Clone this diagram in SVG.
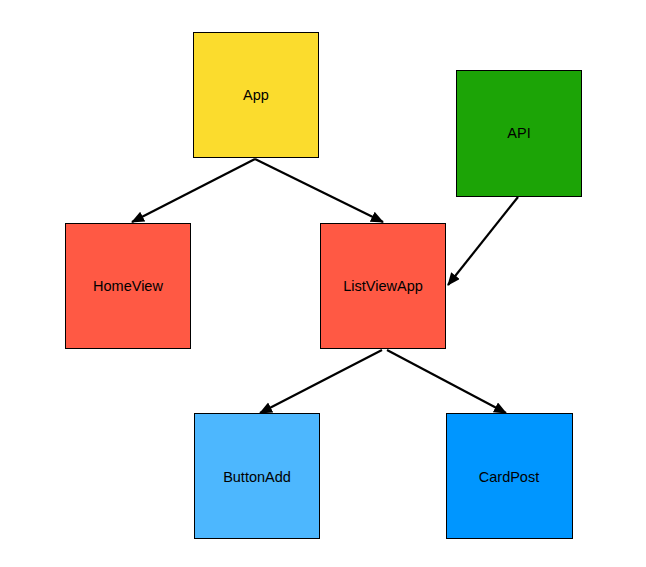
<svg xmlns="http://www.w3.org/2000/svg" width="646" height="567" viewBox="0 0 646 567">
<style>
.box{stroke:#000;stroke-width:1}
.lbl{font-family:"Liberation Sans",Arial,Helvetica,sans-serif;font-size:14.5px;fill:#000;text-anchor:middle}
.edge{stroke:#000;stroke-width:2.2;fill:none;marker-end:url(#arr)}
</style>
<defs>
<marker id="arr" markerUnits="userSpaceOnUse" markerWidth="14" markerHeight="12" refX="12" refY="5.5" orient="auto">
<path d="M0,0 L13,5.5 L0,11 z" fill="#000"/>
</marker>
</defs>
<rect width="646" height="567" fill="#fff"/>
<g id="edges">
<line class="edge" x1="255" y1="159" x2="132" y2="222"/>
<line class="edge" x1="255" y1="159" x2="383" y2="222"/>
<line class="edge" x1="518" y1="197" x2="448" y2="285"/>
<line class="edge" x1="382" y1="350" x2="260" y2="413"/>
<line class="edge" x1="387" y1="350" x2="506" y2="413"/>
</g>
<g id="App"><rect class="box" x="193.5" y="32.5" width="125" height="125" fill="#FBDC2D"/><text class="lbl" x="256" y="100">App</text></g>
<g id="API"><rect class="box" x="456.5" y="70.5" width="125" height="126" fill="#1CA406"/><text class="lbl" x="519" y="138">API</text></g>
<g id="HomeView"><rect class="box" x="65.5" y="223.5" width="125" height="125" fill="#FF5944"/><text class="lbl" x="128" y="291">HomeView</text></g>
<g id="ListViewApp"><rect class="box" x="320.5" y="223.5" width="125" height="125" fill="#FF5944"/><text class="lbl" x="383" y="291">ListViewApp</text></g>
<g id="ButtonAdd"><rect class="box" x="194.5" y="413.5" width="125" height="125" fill="#4DB7FE"/><text class="lbl" x="257" y="482">ButtonAdd</text></g>
<g id="CardPost"><rect class="box" x="446.5" y="413.5" width="126" height="125" fill="#0096FF"/><text class="lbl" x="509" y="482">CardPost</text></g>
</svg>
